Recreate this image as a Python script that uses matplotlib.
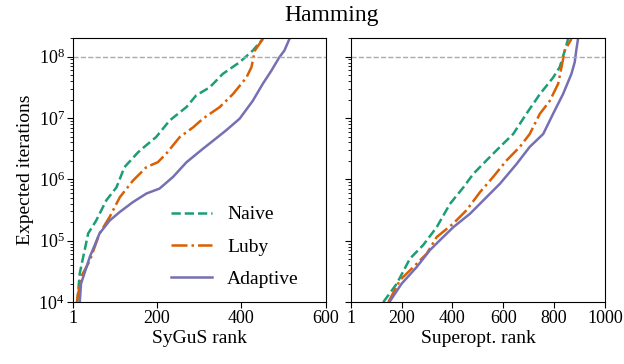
import numpy as np
import matplotlib.pyplot as plt

# ----------------------------
# Data (rank vs log10 expected iterations)
# ----------------------------
sygus_naive_rank = [11, 17, 37, 56, 80, 104, 123, 155, 170, 198, 230, 270, 293, 325, 356, 396, 427, 451]
sygus_naive_log = [4.0, 4.47, 5.12, 5.33, 5.66, 5.87, 6.2, 6.44, 6.53, 6.69, 6.96, 7.18, 7.37, 7.5, 7.72, 7.91, 8.1, 8.29]

sygus_luby_rank = [10, 20, 41, 64, 88, 112, 143, 175, 202, 222, 254, 286, 309, 349, 380, 412, 424, 432, 451]
sygus_luby_log = [4.0, 4.41, 4.68, 5.12, 5.39, 5.71, 5.98, 6.2, 6.28, 6.42, 6.69, 6.85, 6.99, 7.18, 7.39, 7.66, 7.83, 8.1, 8.29]

sygus_adapt_rank = [17, 20, 41, 64, 88, 112, 143, 175, 206, 238, 270, 309, 333, 364, 396, 427, 451, 471, 490, 502, 514]
sygus_adapt_log = [4.0, 4.3, 4.74, 5.12, 5.33, 5.47, 5.63, 5.77, 5.85, 6.04, 6.28, 6.5, 6.63, 6.8, 6.99, 7.28, 7.56, 7.77, 7.99, 8.1, 8.29]

sup_naive_rank = [128, 181, 233, 285, 338, 390, 443, 482, 534, 587, 639, 691, 744, 796, 822, 842, 855]
sup_naive_log = [4.0, 4.3, 4.71, 4.93, 5.22, 5.6, 5.87, 6.09, 6.31, 6.53, 6.74, 7.07, 7.39, 7.66, 7.83, 8.1, 8.29]

sup_luby_rank = [148, 194, 246, 299, 338, 403, 456, 508, 560, 613, 665, 704, 744, 783, 816, 829, 842, 868]
sup_luby_log = [4.0, 4.36, 4.57, 4.79, 5.06, 5.28, 5.5, 5.79, 6.04, 6.31, 6.53, 6.74, 7.07, 7.28, 7.56, 7.83, 8.1, 8.29]

sup_adapt_rank = [152, 200, 259, 312, 351, 403, 469, 534, 587, 652, 704, 757, 796, 835, 868, 881, 887, 894]
sup_adapt_log = [4.0, 4.3, 4.57, 4.85, 5.01, 5.22, 5.44, 5.71, 5.93, 6.25, 6.53, 6.74, 7.07, 7.39, 7.72, 7.91, 8.1, 8.29]

labels = ["Naive", "Luby", "Adaptive"]
colors = ["#1b9e77", "#d95f02", "#7570b3"]
styles = ["--", "-.", "-"]

# ----------------------------
# Plot
# ----------------------------
plt.rcParams["font.family"] = ["Liberation Serif", "DejaVu Serif"]
plt.rcParams["mathtext.fontset"] = "custom"
plt.rcParams["mathtext.rm"] = "Liberation Serif"
plt.rcParams["mathtext.it"] = "Liberation Serif:italic"

fig = plt.figure(figsize=(6.24, 3.64), dpi=100)
ax1 = fig.add_axes([0.117, 0.170, 0.405, 0.725])
ax2 = fig.add_axes([0.5625, 0.170, 0.407, 0.725], sharey=ax1)

panels = [
    (ax1, [(sygus_naive_rank, sygus_naive_log), (sygus_luby_rank, sygus_luby_log),
           (sygus_adapt_rank, sygus_adapt_log)], 600, [1, 200, 400, 600], "SyGuS rank"),
    (ax2, [(sup_naive_rank, sup_naive_log), (sup_luby_rank, sup_luby_log),
           (sup_adapt_rank, sup_adapt_log)], 1000, [1, 200, 400, 600, 800, 1000], "Superopt. rank"),
]

for ax, series, xmax, xticks, xlabel in panels:
    for (r, lg), lab, c, ls in zip(series, labels, colors, styles):
        ax.plot(r, 10 ** np.array(lg), color=c, linestyle=ls, lw=1.8, label=lab)
    ax.axhline(1e8, color="#aaaaaa", linestyle="--", lw=1)
    ax.set_yscale("log")
    ax.set_xlim(1, xmax)
    ax.set_xticks(xticks)
    ax.set_xlabel(xlabel, fontsize=14, labelpad=2)
    ax.tick_params(labelsize=13, length=4, pad=2)
    ax.tick_params(which="minor", length=2)

ax1.set_ylim(1e4, 2e8)
ax1.set_yticks([1e4, 1e5, 1e6, 1e7, 1e8])
ax1.set_ylabel("Expected iterations", fontsize=14, labelpad=3)
ax2.tick_params(labelleft=False)

ax1.legend(loc="upper left", bbox_to_anchor=(0.387, 0.365), frameon=False,
           fontsize=14, borderpad=0, borderaxespad=0, handlelength=2.1,
           labelspacing=0.75, handletextpad=0.8)

fig.suptitle("Hamming", x=0.532, y=0.985, fontsize=17)

plt.savefig("out.png", dpi=100)
